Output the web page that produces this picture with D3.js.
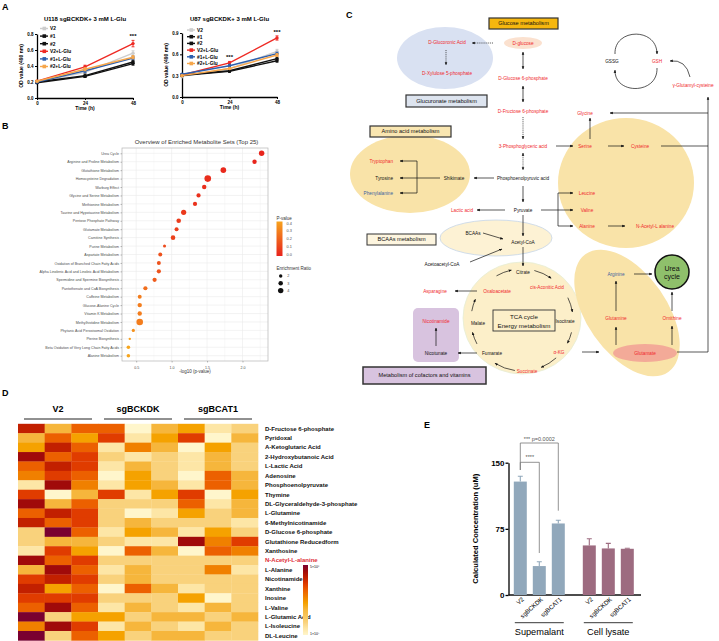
<!DOCTYPE html>
<html>
<head>
<meta charset="utf-8">
<script src="https://cdn.jsdelivr.net/npm/d3@7"></script>
<style>
  body { margin: 0; background: #fff; }
  text { font-family: "Liberation Sans", Arial, sans-serif; }
</style>
</head>
<body>
<div id="chart"></div>
<script>
let width = 719,
    height = 641;

// ---------- A : growth curves
const times = [0, 24, 48];
const growthGroups = ["V2", "#1", "#2", "V2+L-Glu", "#1+L-Glu", "#2+L-Glu"];
const growthColors = ["#cdcdcd", "#111111", "#111111", "#ee2a24", "#2c5fae", "#f6a64a"];
const u118Means = [
  [0.20, 0.32, 0.56],
  [0.20, 0.28, 0.45],
  [0.19, 0.27, 0.43],
  [0.21, 0.39, 0.68],
  [0.20, 0.34, 0.50],
  [0.21, 0.36, 0.51]
];
const u118Errs = [
  [0.01, 0.02, 0.03],
  [0.01, 0.02, 0.02],
  [0.01, 0.01, 0.02],
  [0.01, 0.02, 0.04],
  [0.01, 0.02, 0.02],
  [0.01, 0.02, 0.02]
];
const u87Means = [
  [0.29, 0.40, 0.64],
  [0.31, 0.37, 0.54],
  [0.30, 0.36, 0.51],
  [0.31, 0.48, 0.83],
  [0.32, 0.44, 0.61],
  [0.30, 0.40, 0.59]
];
const u87Errs = [
  [0.02, 0.02, 0.03],
  [0.01, 0.01, 0.02],
  [0.01, 0.01, 0.02],
  [0.01, 0.02, 0.03],
  [0.01, 0.02, 0.02],
  [0.01, 0.01, 0.02]
];

// ---------- B : enrichment
const setNames = [
  "Urea Cycle", "Arginine and Proline Metabolism", "Glutathione Metabolism",
  "Homocysteine Degradation", "Warburg Effect", "Glycine and Serine Metabolism",
  "Methionine Metabolism", "Taurine and Hypotaurine Metabolism", "Pentose Phosphate Pathway",
  "Glutamate Metabolism", "Carnitine Synthesis", "Purine Metabolism", "Aspartate Metabolism",
  "Oxidation of Branched Chain Fatty Acids", "Alpha Linolenic Acid and Linoleic Acid Metabolism",
  "Spermidine and Spermine Biosynthesis", "Pantothenate and CoA Biosynthesis",
  "Caffeine Metabolism", "Glucose-Alanine Cycle", "Vitamin K Metabolism",
  "Methylhistidine Metabolism", "Phytanic Acid Peroxisomal Oxidation", "Pterine Biosynthesis",
  "Beta Oxidation of Very Long Chain Fatty Acids", "Alanine Metabolism"
];
const setLogP = [2.27, 2.17, 1.73, 1.51, 1.46, 1.38, 1.33, 1.17, 1.10, 1.07, 1.02, 0.90, 0.84,
                 0.82, 0.82, 0.76, 0.63, 0.55, 0.55, 0.55, 0.55, 0.46, 0.41, 0.39, 0.39];
const setRatio = [4.0, 2.9, 4.2, 5.5, 2.9, 2.7, 2.7, 3.75, 3.1, 2.5, 3.1, 1.7, 2.5,
                  2.5, 2.7, 2.7, 2.7, 2.5, 2.9, 2.9, 5.5, 1.8, 1.25, 2.15, 2.15];
const logPTicks = [0.5, 1.0, 1.5, 2.0];
const pTicks = [0.0, 0.1, 0.2, 0.3, 0.4];
const ratioTicks = [2, 3, 4];

// ---------- D : heatmap
const heatGroups = ["V2", "sgBCKDK", "sgBCAT1"];
const metabolites = [
  "D-Fructose 6-phosphate", "Pyridoxal", "A-Ketoglutaric Acid", "2-Hydroxybutanoic Acid",
  "L-Lactic Acid", "Adenosine", "Phosphoenolpyruvate", "Thymine", "DL-Glyceraldehyde-3-phosphate",
  "L-Glutamine", "6-Methylnicotinamide", "D-Glucose 6-phosphate", "Glutathione Reducedform",
  "Xanthosine", "N-Acetyl-L-alanine", "L-Alanine", "Nicotinamide", "Xanthine", "Inosine",
  "L-Valine", "L-Glutamic Acid", "L-Isoleucine", "DL-Leucine"
];
const heatLevels = [
  [9, 4, 7, 7, 0, 4, 5, 1, 2],
  [4, 7, 5, 8, 1, 5, 8, 0, 4],
  [5, 9, 7, 1, 6, 4, 0, 5, 2],
  [10, 7, 8, 2, 1, 2, 1, 4, 2],
  [7, 9, 8, 1, 4, 2, 1, 4, 2],
  [6, 8, 7, 0, 5, 2, 0, 7, 4],
  [1, 10, 6, 1, 5, 4, 1, 7, 4],
  [8, 0, 4, 8, 1, 5, 8, 0, 5],
  [10, 4, 7, 2, 2, 2, 7, 1, 4],
  [7, 9, 8, 2, 0, 1, 5, 2, 4],
  [9, 7, 8, 2, 4, 2, 2, 2, 1],
  [2, 11, 7, 1, 5, 4, 1, 5, 2],
  [2, 4, 4, 2, 1, 1, 10, 6, 8],
  [1, 8, 5, 0, 7, 4, 0, 7, 6],
  [10, 7, 8, 2, 2, 2, 2, 2, 2],
  [4, 10, 7, 1, 4, 2, 2, 6, 1],
  [8, 9, 8, 2, 4, 2, 2, 2, 2],
  [9, 5, 7, 0, 7, 4, 1, 2, 2],
  [8, 8, 8, 2, 2, 2, 5, 0, 2],
  [7, 10, 7, 1, 4, 2, 1, 4, 2],
  [11, 2, 5, 5, 2, 4, 4, 2, 4],
  [6, 10, 8, 1, 4, 2, 1, 4, 2],
  [11, 2, 7, 5, 2, 4, 4, 2, 2]
];
const heatPalette = ["#fff6cc", "#fde6a6", "#f9d27c", "#f8c55a", "#f6b63c", "#f5a200",
                     "#f08000", "#ec6000", "#e03c00", "#c22000", "#a00a0a", "#7a0030"];
const heatLegend = ["5×10⁶", "1×10⁵"];

// ---------- E : concentration bars
const concGroups = ["Supemalant", "Cell lysate"];
const concSamples = ["V2", "sgBCKDK", "sgBCAT1"];
const concMeans = [[128.6, 32.8, 81.1], [56.2, 52.8, 52.4]];
const concErrs = [[6.0, 4.9, 3.7], [7.5, 5.7, 0.6]];
const concColors = ["#91a8bb", "#9d6b80"];
const concTicks = [0, 75, 150];

const svg = d3.select("#chart")
      .append("svg")
      .attr("width", width)
      .attr("height", height);

const defs = svg.append("defs");
defs.append("marker")
  .attr("id", "arr")
  .attr("viewBox", "0 0 10 10")
  .attr("refX", 9).attr("refY", 5)
  .attr("markerWidth", 4.5).attr("markerHeight", 4.5)
  .attr("orient", "auto-start-reverse")
  .append("path").attr("d", "M0,1L10,5L0,9z").attr("fill", "#111");

function letter(t, x, y) {
  svg.append("text").attr("x", x).attr("y", y)
    .attr("font-size", 9).attr("font-weight", "bold").text(t);
}
letter("A", 2, 10);
letter("B", 2, 129);
letter("C", 346, 18);
letter("D", 2, 396);
letter("E", 424, 428);

// ================= A
function drawGrowth(cfg) {
  const g = svg.append("g");
  const x = d3.scaleLinear().domain([0, 48]).range([cfg.left, cfg.right]);
  const y = d3.scaleLinear().domain([0, cfg.yMax]).range([cfg.bottom, cfg.top]);

  g.append("text").attr("x", (cfg.left + cfg.right) / 2).attr("y", 21)
    .attr("text-anchor", "middle").attr("font-size", 6).attr("font-weight", "bold")
    .text(cfg.title);

  const ax = g.append("g").attr("transform", "translate(0," + cfg.bottom + ")")
    .call(d3.axisBottom(x).tickValues(times).tickSize(2).tickSizeOuter(0).tickPadding(1.5));
  const ay = g.append("g").attr("transform", "translate(" + cfg.left + ",0)")
    .call(d3.axisLeft(y).tickValues(cfg.yTicks).tickFormat(d3.format(".1f"))
      .tickSize(2).tickSizeOuter(0).tickPadding(1.5));
  [ax, ay].forEach(function (a) {
    a.attr("font-size", 4.5).attr("font-weight", "bold");
    a.select(".domain").attr("stroke-width", 1.3);
  });

  g.append("text").attr("x", (cfg.left + cfg.right) / 2).attr("y", cfg.bottom + 12)
    .attr("text-anchor", "middle").attr("font-size", 5).attr("font-weight", "bold").text("Time (h)");
  g.append("text").attr("transform", "translate(" + (cfg.left - 14) + "," + ((cfg.top + cfg.bottom) / 2) + ") rotate(-90)")
    .attr("text-anchor", "middle").attr("font-size", 5).attr("font-weight", "bold").text("OD value (490 nm)");

  const line = d3.line().x(function (d, i) { return x(times[i]); }).y(function (d) { return y(d); });
  cfg.means.forEach(function (m, k) {
    const col = growthColors[k];
    g.append("path").attr("d", line(m)).attr("fill", "none")
      .attr("stroke", col).attr("stroke-width", 1.4);
    m.forEach(function (v, i) {
      const e = cfg.errs[k][i], cx = x(times[i]);
      g.append("path")
        .attr("d", "M" + (cx - 1.5) + "," + y(v + e) + "H" + (cx + 1.5) + "M" + cx + "," + y(v + e) +
          "V" + y(v - e) + "M" + (cx - 1.5) + "," + y(v - e) + "H" + (cx + 1.5))
        .attr("stroke", col).attr("stroke-width", 0.9).attr("fill", "none");
      g.append("circle").attr("cx", cx).attr("cy", y(v)).attr("r", 1.7).attr("fill", col);
    });
  });

  cfg.stars.forEach(function (t) {
    const i = times.indexOf(t);
    g.append("text").attr("x", x(t)).attr("y", y(cfg.means[3][i] + cfg.errs[3][i]) - 2)
      .attr("text-anchor", "middle").attr("font-size", 6).attr("font-weight", "bold").text("***");
  });

  growthGroups.forEach(function (name, k) {
    const ly = cfg.legendY + k * cfg.legendStep;
    g.append("line").attr("x1", cfg.legendX).attr("x2", cfg.legendX + 8)
      .attr("y1", ly).attr("y2", ly).attr("stroke", growthColors[k]).attr("stroke-width", 1.4);
    g.append("rect").attr("x", cfg.legendX + 2.5).attr("y", ly - 1.8).attr("width", 3.6).attr("height", 3.6)
      .attr("fill", growthColors[k]);
    g.append("text").attr("x", cfg.legendX + 10).attr("y", ly + 1.8)
      .attr("font-size", 4.8).attr("font-weight", "bold").text(name);
  });
}

drawGrowth({
  title: "U118 sgBCKDK+ 3 mM L-Glu", left: 37, right: 133, top: 34, bottom: 98,
  yMax: 0.8, yTicks: [0, 0.2, 0.4, 0.6, 0.8], means: u118Means, errs: u118Errs,
  stars: [48], legendX: 40, legendY: 28.5, legendStep: 7.6
});
drawGrowth({
  title: "U87 sgBCKDK+ 3 mM L-Glu", left: 182, right: 277, top: 33, bottom: 97,
  yMax: 0.9, yTicks: [0, 0.3, 0.6, 0.9], means: u87Means, errs: u87Errs,
  stars: [24, 48], legendX: 187, legendY: 30, legendStep: 6.7
});

// ================= B
(function () {
  const g = svg.append("g");
  const x = d3.scaleLinear().domain([0.3, 2.36]).range([122, 268]);
  const y = d3.scalePoint().domain(setNames).range([153.3, 355.7]);
  const r = d3.scaleSqrt().domain([1, 5.5]).range([1, 3.3]);
  const col = d3.scaleLinear().domain([0, 0.4]).range(["#e8231c", "#f7a31d"]);

  g.append("rect").attr("x", 122).attr("y", 148).attr("width", 146).attr("height", 213)
    .attr("fill", "#fff");
  d3.range(0.25, 2.5, 0.25).forEach(function (v) {
    if (x(v) < 122 || x(v) > 268) return;
    g.append("line").attr("x1", x(v)).attr("x2", x(v)).attr("y1", 148).attr("y2", 361)
      .attr("stroke", "#ebebeb").attr("stroke-width", logPTicks.indexOf(v) >= 0 ? 0.6 : 0.3);
  });
  setNames.forEach(function (n) {
    g.append("line").attr("x1", 122).attr("x2", 268).attr("y1", y(n)).attr("y2", y(n))
      .attr("stroke", "#ebebeb").attr("stroke-width", 0.6);
  });
  g.append("rect").attr("x", 122).attr("y", 148).attr("width", 146).attr("height", 213)
    .attr("fill", "none").attr("stroke", "#b5b5b5").attr("stroke-width", 0.7);

  const ax = g.append("g").attr("transform", "translate(0,361)")
    .call(d3.axisBottom(x).tickValues(logPTicks).tickFormat(d3.format(".1f")).tickSize(1.5).tickSizeOuter(0));
  const ay = g.append("g").attr("transform", "translate(122,0)")
    .call(d3.axisLeft(y).tickSize(1.5).tickSizeOuter(0).tickPadding(1.5));
  [ax, ay].forEach(function (a) {
    a.attr("font-size", 3.6);
    a.select(".domain").remove();
    a.selectAll(".tick line").attr("stroke", "#555").attr("stroke-width", 0.4);
    a.selectAll("text").attr("fill", "#4d4d4d");
  });
  ax.selectAll("text").attr("dy", "0.9em");

  g.selectAll(".dot").data(setNames).enter().append("circle")
    .attr("cx", function (d, i) { return x(setLogP[i]); })
    .attr("cy", function (d) { return y(d); })
    .attr("r", function (d, i) { return r(setRatio[i]); })
    .attr("fill", function (d, i) { return col(Math.pow(10, -setLogP[i])); });

  g.append("text").attr("x", 196.5).attr("y", 143.5).attr("text-anchor", "middle")
    .attr("font-size", 6).attr("fill", "#333").text("Overview of Enriched Metabolite Sets (Top 25)");
  g.append("text").attr("x", 195).attr("y", 373).attr("text-anchor", "middle")
    .attr("font-size", 4.5).attr("fill", "#333").text("-log10 (p-value)");

  // legends
  const grad = defs.append("linearGradient").attr("id", "pgrad")
    .attr("x1", 0).attr("y1", 1).attr("x2", 0).attr("y2", 0);
  grad.append("stop").attr("offset", "0%").attr("stop-color", col(0));
  grad.append("stop").attr("offset", "100%").attr("stop-color", col(0.4));
  const py = d3.scaleLinear().domain([0, 0.4]).range([254.5, 223.3]);
  g.append("text").attr("x", 276.5).attr("y", 219.5).attr("font-size", 4.5).attr("fill", "#333").text("P-value");
  g.append("rect").attr("x", 276.5).attr("y", 221.5).attr("width", 6).attr("height", 34.5)
    .attr("fill", "url(#pgrad)");
  pTicks.forEach(function (p) {
    g.append("text").attr("x", 286.5).attr("y", py(p) + 1.3).attr("font-size", 3.8)
      .attr("fill", "#4d4d4d").text(p.toFixed(1));
  });
  g.append("text").attr("x", 276.5).attr("y", 270).attr("font-size", 4.5).attr("fill", "#333").text("Enrichment Ratio");
  ratioTicks.forEach(function (v, i) {
    const cy = 276 + i * 7.3;
    g.append("circle").attr("cx", 280.7).attr("cy", cy).attr("r", r(v)).attr("fill", "#111");
    g.append("text").attr("x", 287.3).attr("y", cy + 1.3).attr("font-size", 3.8)
      .attr("fill", "#4d4d4d").text(v);
  });
})();

// ================= C : pathway diagram
const RED = "#f0282d", BLUE = "#3f5f9f", INK = "#111";
const pc = svg.append("g");

function blob(cx, cy, rx, ry, fill, stroke, rot) {
  pc.append("ellipse").attr("cx", cx).attr("cy", cy).attr("rx", rx).attr("ry", ry)
    .attr("fill", fill).attr("stroke", stroke || "none").attr("stroke-width", 0.8)
    .attr("transform", rot ? "rotate(" + rot + "," + cx + "," + cy + ")" : null);
}
function label(t, x, y, color, size, anchor) {
  pc.append("text").attr("x", x).attr("y", y).attr("text-anchor", anchor || "middle")
    .attr("font-size", size || 4.7).attr("fill", color || INK).text(t);
}
function boxLabel(t, x, y, w, h, fill, size, sw) {
  pc.append("rect").attr("x", x).attr("y", y).attr("width", w).attr("height", h)
    .attr("fill", fill).attr("stroke", "#333").attr("stroke-width", sw || 1.2);
  label(t, x + w / 2, y + h / 2 + size * 0.35, INK, size);
}
function arrow(x1, y1, x2, y2, opt) {
  opt = opt || {};
  pc.append("line").attr("x1", x1).attr("y1", y1).attr("x2", x2).attr("y2", y2)
    .attr("stroke", INK).attr("stroke-width", 0.7)
    .attr("stroke-dasharray", opt.dot ? "1,0.9" : null)
    .attr("marker-end", opt.noHead ? null : "url(#arr)")
    .attr("marker-start", opt.both ? "url(#arr)" : null);
}
function pathArrow(d, head) {
  pc.append("path").attr("d", d).attr("fill", "none").attr("stroke", INK)
    .attr("stroke-width", 0.7).attr("marker-end", head === false ? null : "url(#arr)");
}
function arcArrow(cx, cy, r, a0, a1) {
  const rad = Math.PI / 180;
  const p0 = [cx + r * Math.cos(a0 * rad), cy + r * Math.sin(a0 * rad)];
  const p1 = [cx + r * Math.cos(a1 * rad), cy + r * Math.sin(a1 * rad)];
  pathArrow("M" + p0 + "A" + r + "," + r + " 0 0 1 " + p1);
}

// background shapes
blob(445, 58, 48, 31, "#d9e1f2");
blob(410, 174, 60, 39, "#f9e3a8");
blob(626, 183, 68, 65, "#f9e3a8");
blob(496, 238, 56, 18, "#fdf2d4", "#c5d5ea");
blob(522, 318, 59, 56, "#fcefc9", "#e6eed6");
blob(627, 313, 72, 40, "#f9e3a8", null, 55);
blob(645, 353, 32, 9, "#f3aa98");
blob(523, 43, 19, 6, "#fbe1cf");
pc.append("rect").attr("x", 413).attr("y", 308).attr("width", 46).attr("height", 54).attr("rx", 5)
  .attr("fill", "#d8c3df");
pc.append("circle").attr("cx", 672).attr("cy", 272).attr("r", 17)
  .attr("fill", "#8fc06b").attr("stroke", INK).attr("stroke-width", 1.5);

// boxes
boxLabel("Glucose metabolism", 489, 18, 69, 11, "#f6b70f", 5.6);
boxLabel("Glucuronate metabolism", 406, 95, 81, 12, "#dde4ef", 5.6);
boxLabel("Amino acid metabolism", 370, 126, 81, 11, "#f9e6b1", 5.6);
boxLabel("BCAAs metabolism", 367, 234, 69, 11, "#fdf5df", 5.6, 1);
boxLabel("Metabolism of cofactors  and vitamins", 363, 367, 123, 17, "#d8c3df", 5.6, 1.5);
pc.append("rect").attr("x", 493).attr("y", 310).attr("width", 62).attr("height", 21)
  .attr("fill", "none").attr("stroke", "#333").attr("stroke-width", 0.9);
label("TCA cycle", 524, 319, INK, 6.2);
label("Energy metabolism", 524, 328, INK, 6.2);
label("Urea", 672, 270.5, INK, 7);
label("cycle", 672, 278.5, INK, 7);

// arrows
arrow(493, 43, 472, 43, { dot: true });
arrow(446, 50, 446, 65, { dot: true });
arrow(523, 52, 523, 69, { both: true });
arrow(523, 86, 523, 102, { both: true });
arrow(523, 117, 523, 139, { dot: true });
arrow(523, 153, 523, 170, { dot: true, both: true });
arrow(523, 186, 523, 202);
arrow(494, 178, 474, 178);
arrow(440, 178, 417, 178, { noHead: true });
arrow(417, 161, 417, 193, { noHead: true });
arrow(417, 161, 400, 161);
arrow(417, 178, 400, 178);
arrow(417, 193, 400, 193);
arrow(505, 210, 477, 210);
arrow(541, 210, 573, 210);
arrow(558, 193, 558, 226, { noHead: true });
arrow(558, 193, 573, 193);
arrow(558, 226, 573, 226);
arrow(556, 146, 573, 146);
arrow(608, 146, 624, 146);
arrow(590, 139, 590, 118);
arrow(661, 146, 708, 146, { noHead: true });
arrow(708, 352, 708, 97);
arrow(708, 113, 610, 113);
arrow(608, 226, 625, 226);
arrow(523, 215, 523, 236);
arrow(483, 233, 503, 239);
arrow(470, 262, 502, 249);
arrow(523, 247, 523, 266);
arrow(477, 291, 455, 291);
arrow(477, 353, 458, 353);
arrow(436, 346, 436, 328);
arrow(582, 352, 599, 352);
arrow(616, 345, 616, 327);
arrow(616, 311, 616, 281);
arrow(634, 274, 652, 274);
arrow(672, 311, 672, 292);
arrow(672, 345, 672, 326);
arrow(677, 352, 708, 352, { noHead: true });

// GSH cycle
pathArrow("M615,54C614,28 657,27 657,54");
pathArrow("M657,68C658,95 614,95 615,70");
pathArrow("M690,77Q686,59 670,61");

// TCA cycle arrows
[[-76, -55], [-26, -9], [14, 27], [48, 68], [98, 122], [152, 166], [190, 204], [240, 258]]
  .forEach(function (s) { arcArrow(522, 320, 51, s[0], s[1]); });

// labels
label("D-Glucoronic Acid", 447, 44, RED);
label("D-Xylulose 5-phosphate", 447, 75, RED);
label("D-glucose", 523, 45, RED);
label("D-Glucose 6-phosphate", 523, 80, RED);
label("D-Fructose 6-phosphate", 523, 113, RED);
label("3-Phosphoglyceric acid", 523, 148, RED);
label("Phosphoenolpyruvic acid", 523, 180);
label("Pyruvate", 523, 212);
label("Lactic  acid", 462, 212, RED);
label("Shikimate", 454, 180);
label("Tryptophan", 393, 163, RED, 4.7, "end");
label("Tyrosine", 393, 180, INK, 4.7, "end");
label("Phenylalanine", 393, 195, BLUE, 4.7, "end");
label("Glycine", 585, 115, RED);
label("Serine", 585, 148, RED);
label("Cysteine", 640, 148, RED);
label("GSSG", 612, 63);
label("GSH", 657, 63, RED);
label("γ-Glutamyl-cysteine", 693, 87, RED);
label("Leucine", 587, 195, RED);
label("Valine", 587, 212, RED);
label("Alanine", 587, 228, RED);
label("N-Acetyl-L alanine", 655, 228, RED);
label("BCAAs", 473, 235);
label("Acetyl-CoA", 523, 244);
label("Acetoacetyl-CoA", 442, 266);
label("Citrate", 523, 274);
label("cis-Aconitic Acid", 547, 289, RED);
label("Isocitrate", 565, 323);
label("α-KG", 559, 354, RED);
label("Succinate", 527, 373, RED);
label("Fumarate", 492, 355);
label("Malate", 478, 325);
label("Oxaloacetate", 497, 293, RED);
label("Asparagine", 435, 293, RED);
label("Nicotinamide", 436, 323, RED);
label("Nicotunate", 436, 355);
label("Glutamate", 645, 355, RED);
label("Glutamine", 616, 320, RED);
label("Arginine", 616, 276, BLUE);
label("Ornithine", 672, 320, RED);

// ================= D : heatmap
(function () {
  const g = svg.append("g");
  const cols = d3.range(9);
  const x = d3.scaleBand().domain(cols).range([18, 258]);
  const y = d3.scaleBand().domain(metabolites).range([423.8, 640.4]);
  const color = d3.scaleLinear().domain(d3.range(heatPalette.length)).range(heatPalette);
  const gx = d3.scaleBand().domain(heatGroups).range([18, 258]);

  heatLevels.forEach(function (row, i) {
    g.selectAll(".c" + i).data(row).enter().append("rect")
      .attr("x", function (d, j) { return x(j); })
      .attr("y", y(metabolites[i]))
      .attr("width", x.bandwidth() + 0.3)
      .attr("height", y.bandwidth() + 0.3)
      .attr("fill", function (d) { return color(d); });
  });

  metabolites.forEach(function (m) {
    g.append("text").attr("x", 265).attr("y", y(m) + y.bandwidth() / 2 + 2.1)
      .attr("font-size", 6).attr("font-weight", "bold")
      .attr("fill", m === "N-Acetyl-L-alanine" ? "#e0303a" : "#111").text(m);
  });

  heatGroups.forEach(function (h) {
    g.append("text").attr("x", gx(h) + gx.bandwidth() / 2).attr("y", 412)
      .attr("text-anchor", "middle").attr("font-size", 9).attr("font-weight", "bold").text(h);
    g.append("line").attr("x1", gx(h) + 6).attr("x2", gx(h) + gx.bandwidth() - 6)
      .attr("y1", 419).attr("y2", 419).attr("stroke", "#222").attr("stroke-width", 1);
  });

  const hg = defs.append("linearGradient").attr("id", "hgrad")
    .attr("x1", 0).attr("y1", 0).attr("x2", 0).attr("y2", 1);
  heatPalette.slice().reverse().forEach(function (c, i) {
    hg.append("stop").attr("offset", (i / (heatPalette.length - 1) * 100) + "%").attr("stop-color", c);
  });
  g.append("rect").attr("x", 303).attr("y", 565).attr("width", 5).attr("height", 70)
    .attr("fill", "url(#hgrad)");
  g.append("text").attr("x", 310).attr("y", 568).attr("font-size", 3.5).text(heatLegend[0]);
  g.append("text").attr("x", 310).attr("y", 635).attr("font-size", 3.5).text(heatLegend[1]);
})();

// ================= E : bars
(function () {
  const g = svg.append("g");
  const y = d3.scaleLinear().domain([0, 150]).range([595, 462.7]);
  const outer = d3.scaleBand().domain(concGroups).range([510.8, 636.8]).paddingInner(0.174);
  const inner = d3.scaleBand().domain(concSamples).range([0, outer.bandwidth()])
    .paddingInner(0.316).paddingOuter(0.158);
  const axisX = 508.5;

  const ay = g.append("g").attr("transform", "translate(" + axisX + ",0)")
    .call(d3.axisLeft(y).tickValues(concTicks).tickSize(3).tickSizeOuter(0).tickPadding(1));
  ay.attr("font-size", 8).attr("font-weight", "bold");
  ay.select(".domain").attr("stroke-width", 1.3);
  ay.selectAll(".tick line").attr("stroke-width", 1.3);
  g.append("line").attr("x1", axisX).attr("x2", 641).attr("y1", 595).attr("y2", 595)
    .attr("stroke", "#111").attr("stroke-width", 1.3);

  g.append("text").attr("transform", "translate(478," + 528.7 + ") rotate(-90)")
    .attr("text-anchor", "middle").attr("font-size", 7.6).attr("font-weight", "bold")
    .text("Calculated Concentration (uM)");

  concGroups.forEach(function (grp, gi) {
    const gx = outer(grp);
    concSamples.forEach(function (s, si) {
      const bx = gx + inner(s), cx = bx + inner.bandwidth() / 2;
      const v = concMeans[gi][si], e = concErrs[gi][si];
      g.append("path")
        .attr("d", "M" + cx + "," + y(v) + "V" + y(v + e) + "M" + (cx - 2.5) + "," + y(v + e) + "H" + (cx + 2.5))
        .attr("stroke", concColors[gi]).attr("stroke-width", 1.1).attr("fill", "none");
      g.append("rect").attr("x", bx).attr("y", y(v)).attr("width", inner.bandwidth())
        .attr("height", y(0) - y(v)).attr("fill", concColors[gi]);
      g.append("text").attr("transform", "translate(" + (cx + 4) + ",600) rotate(-42)")
        .attr("text-anchor", "end").attr("font-size", 6.2).text(s);
    });
    g.append("line").attr("x1", gx + 4).attr("x2", gx + outer.bandwidth() - 4)
      .attr("y1", 622.7).attr("y2", 622.7).attr("stroke", "#222").attr("stroke-width", 0.9);
    g.append("text").attr("x", gx + outer.bandwidth() / 2).attr("y", 635)
      .attr("text-anchor", "middle").attr("font-size", 9.2).text(grp);
  });

  // significance brackets
  const sx = function (s) { return outer(concGroups[0]) + inner(s) + inner.bandwidth() / 2; };
  g.append("path")
    .attr("d", "M" + sx("V2") + ",470V462.3H" + sx("sgBCKDK") + "V553")
    .attr("fill", "none").attr("stroke", "#777").attr("stroke-width", 0.8);
  g.append("path")
    .attr("d", "M" + sx("V2") + ",470V443H" + sx("sgBCAT1") + "V510.7")
    .attr("fill", "none").attr("stroke", "#777").attr("stroke-width", 0.8);
  g.append("text").attr("x", (sx("V2") + sx("sgBCKDK")) / 2).attr("y", 459)
    .attr("text-anchor", "middle").attr("font-size", 5.5).attr("fill", "#555").text("****");
  g.append("text").attr("x", (sx("V2") + sx("sgBCAT1")) / 2).attr("y", 440.5)
    .attr("text-anchor", "middle").attr("font-size", 5.5).attr("fill", "#555").text("*** p=0.0002");
})();
</script>
</body>
</html>
